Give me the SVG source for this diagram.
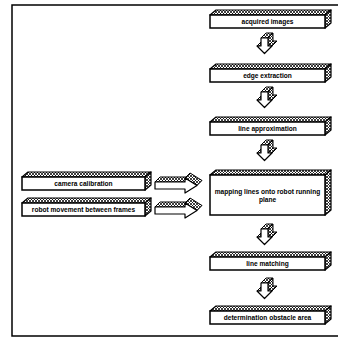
<svg xmlns="http://www.w3.org/2000/svg" xmlns:xlink="http://www.w3.org/1999/xlink" width="338" height="338" viewBox="0 0 338 338">
<defs>
<pattern id="hx" width="3" height="3" patternUnits="userSpaceOnUse">
<rect width="3" height="3" fill="#fff"/>
<path d="M0,0L3,3M3,0L0,3" stroke="#000" stroke-width="0.75"/>
</pattern>
<g id="darrow">
<polygon class="ex" points="-4,8 1,3 5,3 0,8"/>
<polygon class="ex" points="0,0 5,-5 12,-5 7,0"/>
<polygon class="ex" points="7,0 12,-5 12,3 7,8"/>
<polygon class="ex" points="7,8 12,3 16,3 11,8"/>
<polygon class="ex" points="11,8 16,3 8.5,10.5 3.5,15.5"/>
<polygon class="fr" points="0,0 7,0 7,8 11,8 3.5,15.5 -4,8 0,8"/>
</g>
<g id="rarrow">
<polygon class="ex" points="0,0 5,-5 35,-5 30,0"/>
<polygon class="ex" points="30,-4 35,-9 47,-1.5 42,3.5"/>
<polygon class="fr" points="0,0 30,0 30,-4 42,3.5 30,11 30,7 0,7"/>
</g>
</defs>
<style>
.ex{fill:url(#hx);stroke:#000;stroke-width:1;stroke-linejoin:round}
.fr{fill:#fff;stroke:#000;stroke-width:1.2;stroke-linejoin:round}
.top,.side{fill:url(#hx);stroke:#000;stroke-width:1.2;stroke-linejoin:round}
.front{fill:#fff;stroke:#000;stroke-width:1.5}
text{font-family:"Liberation Sans",Arial,sans-serif;font-size:6.6px;font-weight:bold;text-anchor:middle;fill:#000}
</style>
<rect width="338" height="338" fill="#fff"/>
<path d="M338,5H12V336H338" fill="none" stroke="#000" stroke-width="1.5"/>

<g id="acquired-images">
<polygon class="top" points="210,15 216,10 331,10 325,15"/>
<polygon class="side" points="325,15 331,10 331,23 325,28"/>
<rect class="front" x="210" y="15" width="115" height="13"/>
<text x="267.5" y="24">acquired images</text>
</g>
<g id="edge-extraction">
<polygon class="top" points="210,69 216,64 331,64 325,69"/>
<polygon class="side" points="325,69 331,64 331,77 325,82"/>
<rect class="front" x="210" y="69" width="115" height="13"/>
<text x="267.5" y="78">edge extraction</text>
</g>
<g id="line-approximation">
<polygon class="top" points="210,122 216,117 331,117 325,122"/>
<polygon class="side" points="325,122 331,117 331,130 325,135"/>
<rect class="front" x="210" y="122" width="115" height="13"/>
<text x="267.5" y="131">line approximation</text>
</g>
<g id="mapping">
<polygon class="top" points="210,175 216,170 331,170 325,175"/>
<polygon class="side" points="325,175 331,170 331,210 325,215"/>
<rect class="front" x="210" y="175" width="115" height="40"/>
<text x="267.5" y="194">mapping lines onto robot running</text>
<text x="267.5" y="202">plane</text>
</g>
<g id="line-matching">
<polygon class="top" points="210,257 216,252 331,252 325,257"/>
<polygon class="side" points="325,257 331,252 331,265 325,270"/>
<rect class="front" x="210" y="257" width="115" height="13"/>
<text x="267.5" y="266">line matching</text>
</g>
<g id="obstacle-area">
<polygon class="top" points="210,311 216,306 331,306 325,311"/>
<polygon class="side" points="325,311 331,306 331,319 325,324"/>
<rect class="front" x="210" y="311" width="115" height="13"/>
<text x="267.5" y="320">determination obstacle area</text>
</g>
<g id="camera-calibration">
<polygon class="top" points="22,177 28,172 151,172 145,177"/>
<polygon class="side" points="145,177 151,172 151,185 145,190"/>
<rect class="front" x="22" y="177" width="123" height="13"/>
<text x="83.5" y="186">camera calibration</text>
</g>
<g id="robot-movement">
<polygon class="top" points="22,203 28,198 151,198 145,203"/>
<polygon class="side" points="145,203 151,198 151,211 145,216"/>
<rect class="front" x="22" y="203" width="123" height="13"/>
<text x="83.5" y="212">robot movement between frames</text>
</g>

<g id="connectors">
<use xlink:href="#darrow" x="261" y="38"/>
<use xlink:href="#darrow" x="261" y="92"/>
<use xlink:href="#darrow" x="261" y="145"/>
<use xlink:href="#darrow" x="261" y="229"/>
<use xlink:href="#darrow" x="261" y="283"/>
<use xlink:href="#rarrow" x="155" y="182"/>
<use xlink:href="#rarrow" x="155" y="207"/>
</g>
</svg>
